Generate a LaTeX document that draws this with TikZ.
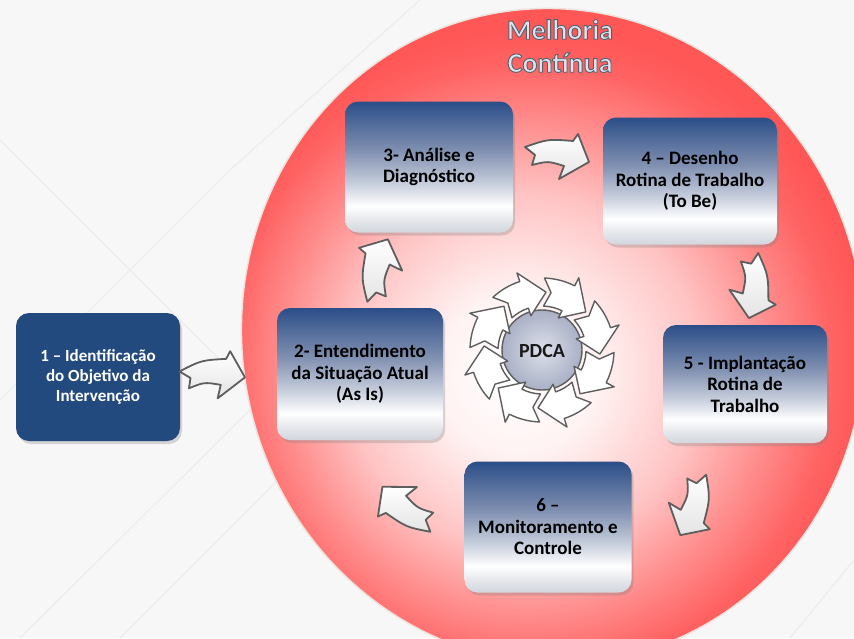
\documentclass[tikz,border=0pt]{standalone}
\usepackage{fontspec}
\setmainfont{Carlito}
\usetikzlibrary{shadows,calc}
\definecolor{bgcol}{HTML}{F7F7F7}
\definecolor{bgline}{HTML}{EDEDED}
\definecolor{bxlow}{HTML}{D2D6DD}
\definecolor{bxlow2}{HTML}{E6E8EC}
\definecolor{bxpale}{HTML}{C8CFDD}
\definecolor{bxmid}{HTML}{7F8FB0}
\definecolor{bxtop}{HTML}{2B4E88}
\definecolor{navy}{HTML}{234A7E}
\definecolor{rg0}{HTML}{FFF2F2}
\definecolor{rg1}{HTML}{FFC4C4}
\definecolor{rg2}{HTML}{FF8A8A}
\definecolor{rg3}{HTML}{FF6262}
\definecolor{rg4}{HTML}{FF5656}
\definecolor{rimcol}{HTML}{EDE2DC}
\definecolor{arrgray}{HTML}{5E5E5E}
\definecolor{titlefill}{HTML}{DDE4EB}
\definecolor{discin}{HTML}{DDE0EA}
\definecolor{discout}{HTML}{A9B0C6}
\definecolor{arrlow}{HTML}{E4E4E4}
\pgfdeclareverticalshading{boxshade}{100bp}{color(0bp)=(bxlow); color(25bp)=(bxlow); color(30bp)=(bxlow2); color(35bp)=(white); color(43.5bp)=(bxpale); color(56.5bp)=(bxmid); color(75bp)=(bxtop); color(100bp)=(bxtop)}
\pgfdeclareradialshading{redglow}{\pgfpoint{-3bp}{-2bp}}{color(0bp)=(white); color(6bp)=(rg0); color(13bp)=(rg1); color(18.5bp)=(rg2); color(22.5bp)=(rg3); color(25bp)=(rg4); color(50bp)=(rg4)}
\newcommand\outlinedtext[1]{\special{pdf:literal direct 2 Tr 0.9 w 0.33 0.38 0.44 RG}#1\special{pdf:literal direct 0 Tr}}
\tikzset{
  barrow/.style={top color=white, bottom color=arrlow, draw=arrgray, line width=1.8pt, line join=round},
  blockarrow/.pic={\draw[barrow] (-31,-13) .. controls (-8,-21) .. (17,-19) -- (22,-26) -- (33,2) -- (3,19) -- (8,6) .. controls (-8,1) .. (-24,5) -- (-21,-5) -- cycle;},
  stepbox/.style={rounded corners=13pt, shade, shading=boxshade, draw=none, inner sep=0pt, align=center,
    drop shadow={opacity=0.3, shadow xshift=2pt, shadow yshift=-3pt},
    font=\bfseries\fontsize{19}{21.5}\selectfont, text=black},
  firstbox/.style={rounded corners=13pt, fill=navy, draw=none, inner sep=0pt, align=center,
    drop shadow={opacity=0.3, shadow xshift=2pt, shadow yshift=-3pt},
    font=\bfseries\fontsize{17}{20}\selectfont, text=white},
  ringarrow/.style={fill=white, draw=arrgray, line width=1.4pt, line join=round}
}
\begin{document}
\begin{tikzpicture}[x=1pt,y=-1pt]
\useasboundingbox (0,0) rectangle (854,638);
% background
\fill[bgcol] (0,0) rectangle (854,638);
\begin{scope}[bgline, line width=1.2pt]
\draw (0,140) -- (260,400) -- (20,638);
\draw (0,400) -- (230,170) -- (420,0);
\draw (120,638) -- (300,458);
\draw (854,420) -- (640,638);
\draw (854,560) -- (790,638);
\end{scope}
% big circle
\begin{scope}[shift={(553,336)}, rotate=10]
\shade[shading=redglow, draw=rimcol, line width=1.5pt] (0,0) ellipse [x radius=311, y radius=328];
\end{scope}
% title
\node[font=\bfseries\fontsize{28}{33}\selectfont, text=titlefill, align=center] (title) at (560,46) {\outlinedtext{Melhoria}\\\outlinedtext{Contínua}};
% boxes
\node[firstbox, minimum width=164pt, minimum height=128pt] (b1) at (98,377) {1 – Identificação\\do Objetivo da\\Intervenção};
\node[stepbox, minimum width=166pt, minimum height=132pt] (b2) at (360,374) {2- Entendimento\\da Situação Atual\\(As Is)};
\node[stepbox, minimum width=168pt, minimum height=131pt] (b3) at (429,167) {3- Análise e\\Diagnóstico};
\node[stepbox, minimum width=174pt, minimum height=127pt] (b4) at (690,181) {4 – Desenho\\Rotina de Trabalho\\(To Be)};
\node[stepbox, minimum width=164pt, minimum height=118pt] (b5) at (745,384) {5 - Implantação\\Rotina de\\Trabalho};
\node[stepbox, minimum width=167pt, minimum height=131pt] (b6) at (548,527) {6 –\\Monitoramento e\\Controle};
% block arrows between boxes
\pic[rotate=8] at (212,380) {blockarrow};
\pic[rotate=85] at (383,272) {blockarrow};
\pic[rotate=0] at (556,160) {blockarrow};
\pic[rotate=-85] at (748,285) {blockarrow};
\pic[rotate=-100] at (688,503) {blockarrow};
\pic[rotate=150] at (410,505) {blockarrow};
% PDCA cycle
\shade[inner color=discin, outer color=discout, draw=arrgray, line width=1.4pt] (542,350) circle (40);
\foreach \a in {0,45,...,315}{
  \draw[ringarrow, shift={(542,350)}] (\a+2:72) arc[start angle=\a+2, end angle=\a+27, radius=72]
    -- (\a+27:81) -- (\a+49:58) -- (\a+27:36) -- (\a+27:44)
    arc[start angle=\a+27, end angle=\a+2, radius=44] -- (\a+9:58) -- cycle;
}
\node[font=\bfseries\fontsize{20}{22}\selectfont, text=black!90] (pdca) at (542,351) {PDCA};
\end{tikzpicture}
\end{document}
